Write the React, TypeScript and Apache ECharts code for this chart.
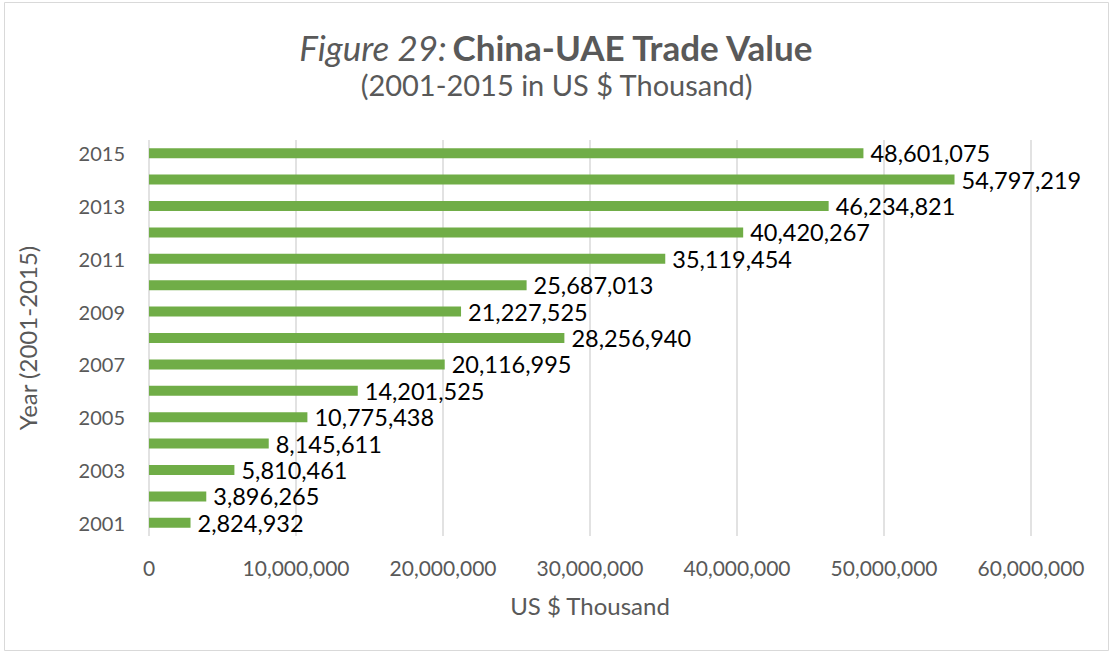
import React, { useEffect, useRef } from "react";
import * as echarts from "echarts";

const years = ["2001","2002","2003","2004","2005","2006","2007","2008","2009","2010","2011","2012","2013","2014","2015"];
const tradeValues = [2824932, 3896265, 5810461, 8145611, 10775438, 14201525, 20116995, 28256940, 21227525, 25687013, 35119454, 40420267, 46234821, 54797219, 48601075];
const xTicks = { min: 0, max: 60000000, interval: 10000000 };

const FONT = "Lato, 'Open Sans', sans-serif";
const fmt = (v: number) => v.toLocaleString("en-US");

export default function App() {
  const ref = useRef<HTMLDivElement>(null);
  useEffect(() => {
    if (!ref.current) return;
    const chart = echarts.init(ref.current, undefined, { renderer: "svg" });
    chart.setOption({
      animation: false,
      backgroundColor: "#ffffff",
      textStyle: { fontFamily: FONT },
      graphic: [
        {
          type: "rect",
          shape: { x: 4.5, y: 2.5, width: 1104, height: 648 },
          style: { fill: "none", stroke: "#d9d9d9", lineWidth: 1 },
          silent: true,
        },
      ],
      title: {
        left: "center",
        top: 24,
        text: "{i|Figure 29:} {b|China-UAE Trade Value}",
        subtext: "(2001-2015 in US $ Thousand)",
        itemGap: 6,
        textStyle: {
          fontWeight: "normal",
          rich: {
            i: { fontFamily: FONT, fontSize: 35, fontStyle: "italic", fontWeight: "normal", color: "#595959" },
            b: { fontFamily: FONT, fontSize: 35, fontWeight: "bold", color: "#595959" },
          },
        },
        subtextStyle: { fontFamily: FONT, fontSize: 29, color: "#595959" },
      },
      grid: { left: 149, right: 82, top: 140, bottom: 119, containLabel: false },
      xAxis: {
        type: "value",
        min: xTicks.min,
        max: xTicks.max,
        interval: xTicks.interval,
        name: "US $ Thousand",
        nameLocation: "middle",
        nameGap: 57,
        nameTextStyle: { fontFamily: FONT, fontSize: 24, color: "#595959" },
        axisLine: { show: false },
        axisTick: { show: false },
        splitLine: { show: true, lineStyle: { color: "#d9d9d9", width: 1.5 } },
        axisLabel: {
          formatter: (v: number) => fmt(v),
          fontFamily: FONT,
          fontSize: 21,
          color: "#595959",
          margin: 21,
        },
      },
      yAxis: {
        type: "category",
        data: years,
        name: "Year (2001-2015)",
        nameLocation: "middle",
        nameGap: 110,
        nameTextStyle: { fontFamily: FONT, fontSize: 24, color: "#595959" },
        axisLine: { show: false },
        axisTick: { show: false },
        axisLabel: {
          interval: 1,
          fontFamily: FONT,
          fontSize: 20,
          color: "#595959",
          margin: 24,
        },
      },
      series: [
        {
          type: "bar",
          data: tradeValues,
          barWidth: 10,
          itemStyle: { color: "#70ad47" },
          label: {
            show: true,
            position: "right",
            distance: 7,
            formatter: (p: any) => fmt(p.value),
            fontFamily: FONT,
            fontSize: 23.5,
            color: "#000000",
          },
        },
      ],
    });
    return () => chart.dispose();
  }, []);
  return (
    <div
      ref={ref}
      style={{ position: "fixed", left: 0, top: 0, width: 1113, height: 655 }}
    />
  );
}
